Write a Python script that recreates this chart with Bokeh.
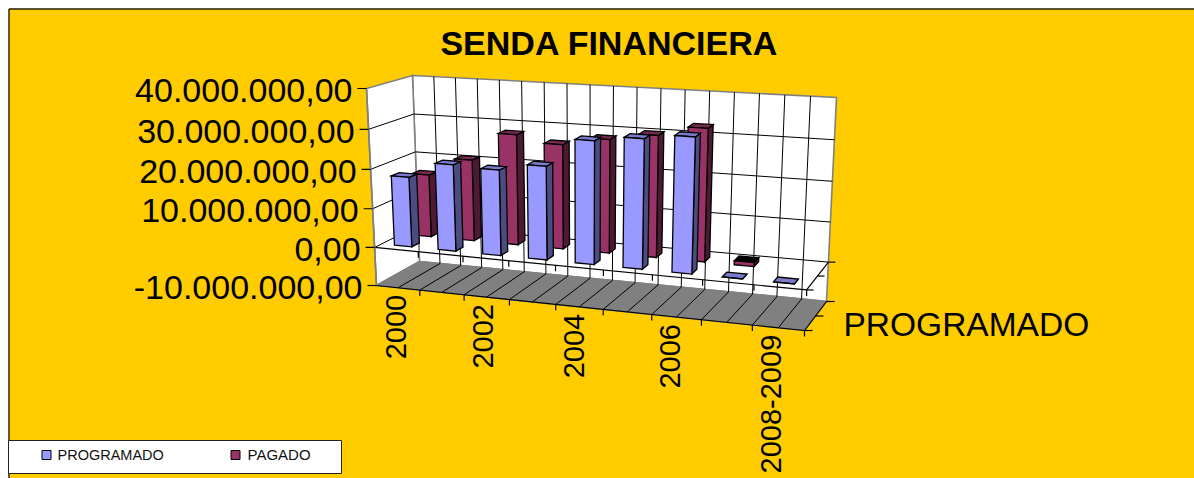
from math import pi
from bokeh.plotting import figure
from bokeh.embed import file_html
from bokeh.resources import INLINE
from bokeh.core.properties import value
from bokeh.models import Range1d

categories = ["2000","2001","2002","2003","2004","2005","2006","2007","2008-2009"]
programado = [17.9e6,22.0e6,21.6e6,23.5e6,30.6e6,32.0e6,33.3e6,0.0,0.0]
pagado     = [16.3e6,21.0e6,28.3e6,26.6e6,28.7e6,30.5e6,33.0e6,1.0e6,None]
series_names = ["PROGRAMADO","PAGADO"]
value_ticks = [40e6,30e6,20e6,10e6,0,-10e6]
value_labels = ["40.000.000,00","30.000.000,00","20.000.000,00","10.000.000,00","0,00","-10.000.000,00"]
shown_categories = ["2000","2002","2004","2006","2008-2009"]
title_text = "SENDA FINANCIERA"

W, H = 1194, 478
M = 8
# projection: box corners in page pixels, (x, depth, value) -> picture position
c = {
 (0,0,0):(376,285),(0,0,1):(366,88),(1,0,0):(804,330),(1,0,1):(815,120),
 (0,1,0):(419,261),(0,1,1):(412,75),(1,1,0):(826,301),(1,1,1):(836,97),
}
Kx, Kw = 1.11, 1.045
VMIN, VMAX = -10e6, 40e6
ncat = len(categories)

def proj(cat, depth, val):
    t = cat/ncat
    u = t/(t+(1-t)*Kx)
    w0 = (val-VMIN)/(VMAX-VMIN)
    w = w0/(w0+(1-w0)*Kw)
    px = py = 0.0
    for a,wa in ((0,1-u),(1,u)):
        for b,wb in ((0,1-depth),(1,depth)):
            for d,wd in ((0,1-w),(1,w)):
                q = c[(a,b,d)]
                px += wa*wb*wd*q[0]; py += wa*wb*wd*q[1]
    return px, py

p = figure(width=W, height=H, output_backend="svg", toolbar_location=None,
           x_range=Range1d(0,W), y_range=Range1d(H,0),
           min_border=0, background_fill_color="white", border_fill_color="white",
           outline_line_color=None)
p.axis.visible = False
p.grid.visible = False

def poly(pts, fill, line="black", lw=1.3):
    p.patch([q[0] for q in pts],[q[1] for q in pts],fill_color=fill,line_color=line,line_width=lw,line_join="miter")
def seg(a,b,color="black",lw=1.0):
    p.line([a[0],b[0]],[a[1],b[1]],line_color=color,line_width=lw)

# chart area with frame on its left and top edge
p.patch([M,W,W,M],[M,M,H,H],fill_color="#FFCC00",line_color=None)
p.line([M+.5,M+.5],[H,M+.5],line_color="#222222",line_width=1.4)
p.line([M+.5,W],[M+.5,M+.5],line_color="#222222",line_width=1.4)

GR="#808080"
# walls
poly([proj(0,1,VMIN),proj(ncat,1,VMIN),proj(ncat,1,VMAX),proj(0,1,VMAX)],"white",GR,1.6)
poly([proj(0,0,VMIN),proj(0,1,VMIN),proj(0,1,VMAX),proj(0,0,VMAX)],"white",GR,1.6)
poly([proj(0,0,VMIN),proj(ncat,0,VMIN),proj(ncat,1,VMIN),proj(0,1,VMIN)],GR,GR,1.6)
# grid
for v in value_ticks[1:-1]:
    seg(proj(0,0,v),proj(0,1,v),lw=1.0); seg(proj(0,1,v),proj(ncat,1,v),lw=1.0)
for i in range(1,2*ncat):
    seg(proj(i/2,1,VMIN),proj(i/2,1,VMAX),lw=1.0)
    seg(proj(i/2,0,VMIN),proj(i/2,1,VMIN),lw=1.0)
# axes at zero and floor ticks
seg(proj(0,0,0),proj(ncat,0,0),lw=1.2)
seg(proj(ncat,0,0),proj(ncat,1,0),lw=1.2)
for d in (0,.5,1):
    a=proj(ncat,d,0); seg(a,(a[0]+7,a[1]),lw=1.2)
seg(proj(0,0,VMIN),proj(ncat,0,VMIN),lw=1.2)
seg(proj(ncat,0,VMIN),proj(ncat,1,VMIN),lw=1.2)
for d in (0,.5,1):
    a=proj(ncat,d,VMIN); seg(a,(a[0]+8,a[1]),lw=1.2)
for i in range(1,ncat+1):
    a=proj(i,0,VMIN); seg(a,(a[0],a[1]+6),lw=1.2)
    a=proj(i,0,0);    seg(a,(a[0],a[1]+6),lw=1.2)
a=proj(0,0,0); seg(a,(a[0],a[1]+5),lw=1.2)
seg(proj(0,0,VMIN),proj(0,0,VMAX),GR,1.6)
for v,l in zip(value_ticks,value_labels):
    a=proj(0,0,v); seg(a,(a[0]-9,a[1]),lw=1.2)
    p.text([a[0]-14],[a[1]+2],text=[l],text_font=value("Liberation Sans"),text_font_size="34px",
           text_align="right",text_baseline="middle",text_color="black")

BW=0.40
def bar(i, d0, d1, val, front, side, top):
    x0,x1=i+.5-BW/2,i+.5+BW/2
    poly([proj(x1,d0,0),proj(x1,d1,0),proj(x1,d1,val),proj(x1,d0,val)],side)
    poly([proj(x0,d0,val),proj(x1,d0,val),proj(x1,d1,val),proj(x0,d1,val)],top)
    poly([proj(x0,d0,0),proj(x1,d0,0),proj(x1,d0,val),proj(x0,d0,val)],front)

for i,v in enumerate(pagado):
    if v is not None:
        bar(i,.62,.80,v,"#993366","#4D1933","#7A2952" if v>2e6 else "#000000")
for i,v in enumerate(programado):
    if v is not None:
        bar(i,.16,.34,v,"#9999FF","#4C4C80","#7A7ACC")

# category labels
for n in shown_categories:
    i=categories.index(n)
    a=proj(i+.5,0,VMIN)
    t=(i+.5)/ncat
    p.text([a[0]-2-6*t],[a[1]+7],text=[n],angle=pi/2,text_font=value("Liberation Sans"),text_font_size="29px",
           text_align="right",text_baseline="middle",text_color="black")
# series axis label
a=proj(ncat,.5,VMIN)
p.text([a[0]+28],[a[1]+8],text=[series_names[0]],text_font=value("Liberation Sans"),text_font_size="33.5px",
       text_align="left",text_baseline="middle",text_color="black")
# title
p.text([609],[42],text=[title_text],text_font=value("Liberation Sans"),text_font_style="bold",text_font_size="34px",
       text_align="center",text_baseline="middle",text_color="black")
# legend
lx0,lx1,ly0,ly1=M,341,440,473
p.patch([lx0,lx1,lx1,lx0],[ly0,ly0,ly1,ly1],fill_color="white",line_color="#222222",line_width=1)
p.scatter([46],[454.5],marker="square",size=9,fill_color="#9999FF",line_color="black",line_width=1)
p.scatter([235],[454.5],marker="square",size=9,fill_color="#993366",line_color="black",line_width=1)
p.text([57],[454],text=[series_names[0]],text_font=value("Liberation Sans"),text_font_size="14.5px",text_align="left",text_baseline="middle",text_color="#111111")
p.text([247],[454],text=[series_names[1]],text_font=value("Liberation Sans"),text_font_size="15px",text_align="left",text_baseline="middle",text_color="#111111")

open("out.html","w").write(file_html(p,INLINE))
